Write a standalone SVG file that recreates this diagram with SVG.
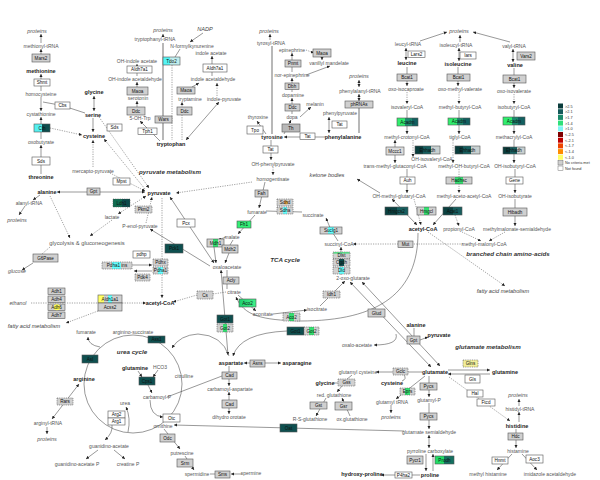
<svg xmlns="http://www.w3.org/2000/svg" width="600" height="480" viewBox="0 0 600 480">
<defs>
<style>
text{font-family:"Liberation Sans",Arial,sans-serif}
.m{font-size:5px;fill:#555;text-anchor:middle}
.b{font-size:5.5px;font-weight:bold;fill:#222;text-anchor:middle}
.p{font-size:5.5px;font-style:italic;fill:#555;text-anchor:middle}
.t{font-size:6.2px;font-weight:bold;font-style:italic;fill:#333;text-anchor:middle}
.i{font-size:5.6px;font-style:italic;fill:#444;text-anchor:middle}
.k{font-size:4.6px;fill:#111;text-anchor:middle}
.lg{font-size:3.8px;fill:#333}
.g{fill:#d0d0d0;stroke:#555;stroke-width:.6}
.w{fill:#fff;stroke:#555;stroke-width:.6}
.d{stroke-dasharray:1 .8}
.l{fill:none;stroke:#333;stroke-width:.5}
.dl{fill:none;stroke:#444;stroke-width:.5;stroke-dasharray:1.2 1.2}
.th{fill:none;stroke:#9a9a9a;stroke-width:1.4}
.e{marker-end:url(#a)}
.s{marker-start:url(#a)}
</style>
<marker id="a" viewBox="0 0 6 6" refX="6" refY="3" markerWidth="3.2" markerHeight="3.2" markerUnits="userSpaceOnUse" orient="auto-start-reverse"><path d="M0,0 L6,3 L0,6 z" fill="#222"/></marker>
<linearGradient id="gCth"><stop offset=".5" stop-color="#55f0f0"/><stop offset=".5" stop-color="#0c4c4c"/></linearGradient>
<linearGradient id="gAcadm"><stop offset=".4" stop-color="#30ee6e"/><stop offset=".4" stop-color="#1b8a6e"/><stop offset=".7" stop-color="#1b8a6e"/><stop offset=".7" stop-color="#126060"/></linearGradient>
<linearGradient id="gEhh"><stop offset=".3" stop-color="#093c3c"/><stop offset=".3" stop-color="#155e5e"/><stop offset=".65" stop-color="#155e5e"/><stop offset=".65" stop-color="#c8d0d0"/></linearGradient>
<linearGradient id="gDark"><stop offset=".5" stop-color="#0a4040"/><stop offset=".5" stop-color="#175e5e"/></linearGradient>
<linearGradient id="gLdh"><stop offset=".5" stop-color="#0f6b50"/><stop offset=".5" stop-color="#0b4a4a"/></linearGradient>
<linearGradient id="gGrn"><stop offset=".35" stop-color="#d0d0d0"/><stop offset=".35" stop-color="#33e070"/><stop offset=".65" stop-color="#33e070"/><stop offset=".65" stop-color="#d0d0d0"/></linearGradient>
<linearGradient id="gCyn"><stop offset=".35" stop-color="#d0d0d0"/><stop offset=".35" stop-color="#66ffff"/><stop offset=".65" stop-color="#66ffff"/><stop offset=".65" stop-color="#d0d0d0"/></linearGradient>
<linearGradient id="gTeal"><stop offset=".35" stop-color="#d0d0d0"/><stop offset=".35" stop-color="#0c4c4c"/><stop offset=".65" stop-color="#0c4c4c"/><stop offset=".65" stop-color="#d0d0d0"/></linearGradient>
<linearGradient id="gAld"><stop offset=".25" stop-color="#ffff66"/><stop offset=".25" stop-color="#d0d0d0"/><stop offset=".4" stop-color="#d0d0d0"/><stop offset=".4" stop-color="#66ffff"/><stop offset=".6" stop-color="#66ffff"/><stop offset=".6" stop-color="#d0d0d0"/></linearGradient>
<linearGradient id="gTdo"><stop offset=".4" stop-color="#55f5f5"/><stop offset=".4" stop-color="#bfeeee"/></linearGradient>
<linearGradient id="gProd"><stop offset=".45" stop-color="#22dd66"/><stop offset=".45" stop-color="#137060"/></linearGradient>
<linearGradient id="gAco"><stop offset="0" stop-color="#1fcf6f"/><stop offset="1" stop-color="#40f088"/></linearGradient>
</defs>
<rect width="600" height="480" fill="#fff"/>

<g id="connectors">
<line class="l e" x1="41" y1="43" x2="41" y2="34"/>
<line class="l e" x1="41" y1="55" x2="41" y2="49"/>
<line class="l e" x1="41" y1="91" x2="41" y2="74"/>
<line class="l e" x1="41" y1="97" x2="41" y2="111"/>
<polyline class="l" points="43,102 62,105.5 85,113"/>
<line class="l e" x1="41" y1="139" x2="41" y2="117"/>
<line class="dl e" x1="50" y1="128" x2="82" y2="135"/>
<line class="l e" x1="41" y1="174" x2="41" y2="145"/>
<line class="l e s" x1="94" y1="96" x2="94" y2="111"/>
<line class="l e" x1="93" y1="118" x2="93" y2="132"/>
<line class="dl e" x1="99" y1="117" x2="149" y2="188"/>
<line class="dl e" x1="145" y1="189" x2="104" y2="139"/>
<line class="dl e" x1="93" y1="167" x2="93" y2="140"/>
<line class="dl e" x1="110" y1="173" x2="145" y2="191"/>
<line class="l e s" x1="57" y1="192" x2="145" y2="192"/>
<line class="l e" x1="40" y1="195" x2="33" y2="200"/>
<line class="l e" x1="25" y1="206" x2="19" y2="215"/>
<line class="dl e s" x1="146" y1="196" x2="118" y2="214"/>
<line class="dl e" x1="146" y1="223" x2="152" y2="197"/>
<line class="dl e" x1="50" y1="196" x2="70" y2="238"/>
<line class="dl e" x1="112" y1="220" x2="90" y2="236"/>
<line class="dl" x1="50" y1="247" x2="42" y2="254"/>
<line class="l e" x1="33" y1="263" x2="22" y2="270"/>
<line class="dl e" x1="162" y1="198" x2="162" y2="298"/>
<line class="l e" x1="132" y1="265" x2="152" y2="265"/>
<line class="l e" x1="152" y1="271" x2="134" y2="271"/>
<line class="dl e" x1="31" y1="303" x2="146" y2="303"/>
<line class="dl e" x1="98" y1="311" x2="66" y2="323"/>
<line class="th" x1="163" y1="140" x2="163" y2="43"/>
<line class="l e" x1="163" y1="37" x2="163" y2="34"/>
<line class="dl" x1="172" y1="65" x2="172" y2="140"/>
<line class="l" x1="175" y1="57" x2="180" y2="49"/>
<line class="l s" x1="190" y1="42" x2="203" y2="33"/>
<line class="l e" x1="212" y1="76" x2="212" y2="56"/>
<line class="l e" x1="192" y1="87" x2="199" y2="83"/>
<line class="dl e" x1="182" y1="140" x2="182" y2="102"/>
<line class="dl e" x1="217" y1="96" x2="217" y2="83"/>
<line class="l e s" x1="186" y1="140" x2="219" y2="102"/>
<line class="l e" x1="137" y1="76" x2="137" y2="64"/>
<line class="l e" x1="137" y1="95" x2="137" y2="82"/>
<line class="l e" x1="137" y1="115" x2="137" y2="101"/>
<line class="l e" x1="160" y1="141" x2="140" y2="121"/>
<line class="th" x1="272" y1="134" x2="272" y2="46"/>
<line class="l e" x1="270" y1="40" x2="270" y2="34"/>
<line class="l e" x1="292" y1="114" x2="292" y2="98"/>
<line class="l e" x1="292" y1="92" x2="292" y2="78"/>
<line class="l e" x1="292" y1="72" x2="292" y2="53"/>
<line class="dl e" x1="306" y1="50" x2="314" y2="53"/>
<line class="l e" x1="322" y1="57" x2="322" y2="60"/>
<line class="l e" x1="306" y1="75" x2="330" y2="66"/>
<line class="l e" x1="284" y1="134" x2="291" y2="120"/>
<line class="l e" x1="300" y1="117" x2="311" y2="107"/>
<line class="l e" x1="266" y1="134" x2="257" y2="121"/>
<line class="l e" x1="271" y1="140" x2="271" y2="160"/>
<line class="l e" x1="325" y1="137" x2="284" y2="137"/>
<line class="l e s" x1="329" y1="133" x2="329" y2="117"/>
<line class="th" x1="359" y1="108" x2="359" y2="133"/>
<line class="l e s" x1="359" y1="94" x2="359" y2="101"/>
<line class="l e s" x1="359" y1="80" x2="359" y2="87"/>
<line class="dl e" x1="273" y1="167" x2="273" y2="175"/>
<line class="dl e" x1="252" y1="182" x2="176" y2="193"/>
<line class="l e" x1="265" y1="182" x2="259" y2="208"/>
<line class="l e" x1="420" y1="41" x2="447" y2="32"/>
<line class="l e" x1="460" y1="42" x2="460" y2="35"/>
<line class="l e" x1="510" y1="42" x2="473" y2="32"/>
<line class="l e s" x1="406" y1="60" x2="406" y2="48"/>
<line class="l e s" x1="459" y1="61" x2="459" y2="48"/>
<line class="l e s" x1="513" y1="62" x2="513" y2="49"/>
<line class="l e" x1="407" y1="67" x2="407" y2="86"/>
<line class="l e" x1="458" y1="67" x2="458" y2="86"/>
<line class="l e" x1="514" y1="68" x2="514" y2="88"/>
<line class="dl e" x1="407" y1="92" x2="407" y2="104"/>
<line class="dl e" x1="459" y1="92" x2="459" y2="104"/>
<line class="dl e" x1="514" y1="94" x2="514" y2="104"/>
<line class="l e" x1="407" y1="110" x2="407" y2="134"/>
<line class="l e" x1="459" y1="110" x2="459" y2="134"/>
<line class="l e" x1="514" y1="110" x2="514" y2="134"/>
<line class="l e s" x1="395" y1="140" x2="395" y2="163"/>
<line class="dl e" x1="413" y1="140" x2="413" y2="157"/>
<line class="dl e" x1="453" y1="140" x2="453" y2="163"/>
<line class="l e" x1="514" y1="140" x2="514" y2="163"/>
<line class="l e" x1="407" y1="169" x2="407" y2="193"/>
<line class="dl e" x1="459" y1="169" x2="459" y2="193"/>
<line class="l e" x1="515" y1="169" x2="515" y2="193"/>
<line class="l e" x1="380" y1="193" x2="357" y2="179"/>
<line class="l e s" x1="392" y1="199" x2="417" y2="225"/>
<line class="dl e" x1="414" y1="199" x2="421" y2="225"/>
<line class="l e" x1="456" y1="199" x2="433" y2="225"/>
<line class="dl e" x1="455" y1="215" x2="459" y2="226"/>
<line class="l e" x1="515" y1="199" x2="515" y2="226"/>
<line class="dl e" x1="462" y1="232" x2="481" y2="241"/>
<line class="dl e" x1="505" y1="232" x2="489" y2="241"/>
<line class="dl e" x1="463" y1="244" x2="353" y2="244"/>
<line class="dl e" x1="428" y1="232" x2="505" y2="286"/>
<path class="l e" d="M418,233 C418,292 380,321 300,321 C262,320 244,316 236,297"/>
<line class="l" x1="266" y1="211" x2="302" y2="212"/>
<line class="l e" x1="255" y1="215" x2="238" y2="234"/>
<line class="l e" x1="226" y1="237" x2="218" y2="240"/>
<line class="l" x1="233" y1="240" x2="230" y2="245"/>
<line class="l e" x1="214" y1="247" x2="216" y2="263"/>
<line class="l e" x1="229" y1="253" x2="225" y2="263"/>
<line class="l e s" x1="170" y1="197" x2="214" y2="263"/>
<line class="l s" x1="150" y1="229" x2="210" y2="266"/>
<line class="l" x1="227" y1="270" x2="227" y2="289"/>
<line class="dl e" x1="197" y1="295" x2="173" y2="302"/>
<line class="dl" x1="213" y1="294" x2="226" y2="292"/>
<line class="l e s" x1="221" y1="270" x2="228" y2="355"/>
<line class="l e" x1="238" y1="295" x2="256" y2="311"/>
<line class="l e" x1="273" y1="314" x2="307" y2="310"/>
<line class="l e" x1="320" y1="306" x2="345" y2="281"/>
<line class="l e" x1="341" y1="275" x2="341" y2="247"/>
<polyline class="l e" points="338,241 331,230 326,218"/>
<line class="l e s" x1="350" y1="282" x2="431" y2="367"/>
<line class="l e s" x1="362" y1="282" x2="440" y2="366"/>
<line class="l" x1="414" y1="328" x2="414" y2="336"/>
<line class="l e" x1="420" y1="340" x2="428" y2="337"/>
<path class="l e" d="M396,334 Q399,345 374,345"/>
<path class="l s" d="M233,356 Q240,333 287,331"/>
<circle class="l" cx="133" cy="384" r="49"/>
<path class="l e" d="M229,356 Q222,335 198,334 Q180,335 172,348"/>
<path class="l e" d="M100,347 Q88,345 88,337"/>
<line class="l e" x1="138" y1="371" x2="142" y2="377"/>
<line class="l e" x1="158" y1="370" x2="153" y2="377"/>
<line class="l e" x1="148" y1="385" x2="152" y2="393"/>
<path class="l e" d="M150,400 Q150,416 163,417"/>
<line class="l" x1="167" y1="397" x2="222" y2="376"/>
<line class="l e" x1="229" y1="366" x2="229" y2="386"/>
<line class="l e s" x1="229" y1="392" x2="229" y2="414"/>
<line class="l e s" x1="244" y1="363" x2="281" y2="363"/>
<path class="l e" d="M128,432 Q131,418 126,407"/>
<path class="l e" d="M112,425 Q113,433 105,440"/>
<line class="l e" x1="98" y1="450" x2="86" y2="459"/>
<line class="l e" x1="114" y1="450" x2="125" y2="459"/>
<line class="l e s" x1="79" y1="384" x2="52" y2="419"/>
<line class="l e" x1="47" y1="427" x2="47" y2="434"/>
<line class="l e" x1="164" y1="429" x2="180" y2="449"/>
<line class="l e" x1="185" y1="456" x2="194" y2="470"/>
<line class="l" x1="210" y1="474" x2="215" y2="474"/>
<line class="l e" x1="242" y1="474" x2="231" y2="474"/>
<line class="l e" x1="404" y1="431" x2="174" y2="425"/>
<line class="l e" x1="448" y1="370" x2="490" y2="370"/>
<line class="l e" x1="490" y1="374" x2="448" y2="374"/>
<line class="dl e" x1="449" y1="377" x2="510" y2="421"/>
<line class="l e" x1="519" y1="422" x2="519" y2="412"/>
<line class="l e" x1="519" y1="406" x2="519" y2="399"/>
<line class="l e" x1="516" y1="429" x2="516" y2="448"/>
<line class="l e" x1="512" y1="454" x2="497" y2="470"/>
<line class="l e" x1="522" y1="454" x2="537" y2="470"/>
<line class="l e" x1="422" y1="372" x2="376" y2="372"/>
<path class="l" d="M402,381 Q407,379 404,375"/>
<line class="l" x1="352" y1="375" x2="346" y2="380"/>
<line class="l e" x1="342" y1="386" x2="337" y2="392"/>
<line class="l" x1="333" y1="383" x2="338" y2="383"/>
<line class="l e" x1="326" y1="398" x2="316" y2="416"/>
<line class="l e" x1="350" y1="416" x2="342" y2="398"/>
<line class="l e" x1="425" y1="376" x2="396" y2="399"/>
<line class="l e" x1="391" y1="405" x2="391" y2="413"/>
<line class="l e" x1="429" y1="376" x2="429" y2="397"/>
<line class="l e" x1="429" y1="403" x2="429" y2="429"/>
<line class="l e s" x1="429" y1="435" x2="429" y2="448"/>
<line class="l e" x1="426" y1="454" x2="426" y2="471"/>
<line class="l e" x1="433" y1="471" x2="433" y2="454"/>
<line class="l e" x1="420" y1="475" x2="381" y2="475"/>
</g>

<g id="nodes">
<g id="Mars2"><rect class="g" x="32" y="54" width="18" height="8"/><text class="k" x="41" y="59.6">Mars2</text></g>
<g id="Shmt"><rect class="w" x="34" y="79" width="16" height="7"/><text class="k" x="42" y="84.1">Shmt</text></g>
<g id="Cbs"><rect class="w" x="55" y="102" width="15" height="7"/><text class="k" x="62.5" y="107.1">Cbs</text></g>
<g id="Cth"><rect class="g" style="fill:url(#gCth)" x="34" y="124" width="16" height="8"/><text class="k" x="42" y="129.6">Cth</text></g>
<g id="Sds1"><rect class="w" x="107" y="124" width="15" height="7"/><text class="k" x="114.5" y="129.1">Sds</text></g>
<g id="Sds2"><rect class="w" x="32" y="157" width="18" height="8"/><text class="k" x="41" y="162.6">Sds</text></g>
<g id="Mpst"><rect class="w" x="113" y="178" width="17" height="7"/><text class="k" x="121.5" y="183.1">Mpst</text></g>
<g id="Gpt1"><rect class="g" x="87" y="188" width="13" height="7"/><text class="k" x="93.5" y="193.1">Gpt</text></g>
<g id="Ldh1"><rect class="g d" style="fill:url(#gLdh)" x="113" y="199" width="17" height="8"/><text class="k" x="121.5" y="204.6">Ldh1</text></g>
<g id="Pkm2"><rect class="g d" x="135" y="206" width="17" height="7"/><text class="k" x="143.5" y="211.1">Pkm2</text></g>
<g id="G6Pase"><rect class="g" x="33" y="254" width="25" height="8"/><text class="k" x="45.5" y="259.6">G6Pase</text></g>
<g id="pdhp"><rect class="w" x="133" y="251" width="17" height="7"/><text class="k" x="141.5" y="256.1">pdhp</text></g>
<g id="Pdha1ins"><rect class="g d" style="fill:url(#gCyn)" x="102" y="262" width="30" height="7"/><text class="k" x="117" y="267.1">Pdha1 ins</text></g>
<g id="Pdk4"><rect class="g d" x="135" y="274" width="15" height="7"/><text class="k" x="142.5" y="279.1">Pdk4</text></g>
<g id="Pdhx"><rect class="g d" x="153" y="259" width="15" height="7"/><text class="k" x="160.5" y="264.1">Pdhx</text></g>
<g id="Pdha1"><rect class="g d" style="fill:url(#gCyn)" x="153" y="267" width="15" height="7"/><text class="k" x="160.5" y="272.1">Pdha1</text></g>
<g id="Adh1"><rect class="g" x="48" y="288" width="17" height="6.5"/><text class="k" x="56.5" y="292.9">Adh1</text></g>
<g id="Adh4"><rect class="g" x="48" y="296" width="17" height="6.5"/><text class="k" x="56.5" y="300.9">Adh4</text></g>
<g id="Adh6"><rect class="g" x="48" y="304" width="17" height="6.5"/><ellipse cx="57" cy="307.2" rx="3.5" ry="3" fill="#ffff55"/><text class="k" x="56.5" y="308.9">Adh6</text></g>
<g id="Adh7"><rect class="g" x="48" y="312" width="17" height="6.5"/><text class="k" x="56.5" y="316.9">Adh7</text></g>
<g id="Aldh1a1"><rect class="g" style="fill:url(#gAld)" x="98" y="295" width="24" height="8"/><text class="k" x="110" y="300.6">Aldh1a1</text></g>
<g id="Acss2"><rect class="g" x="98" y="303" width="24" height="8"/><text class="k" x="110" y="308.6">Acss2</text></g>
<g id="Aldh7a1a"><rect class="w" x="127" y="66" width="25" height="7"/><text class="k" x="139.5" y="71.1">Aldh7a1</text></g>
<g id="Maoa1"><rect class="g" x="127" y="87" width="21" height="8"/><text class="k" x="137.5" y="92.6">Maoa</text></g>
<g id="Ddc1"><rect class="g" x="127" y="107" width="18" height="8"/><text class="k" x="136" y="112.6">Ddc</text></g>
<g id="Tph1"><rect class="w" x="138" y="128" width="19" height="6.5"/><text class="k" x="147.5" y="132.9">Tph1</text></g>
<g id="Wars"><rect class="g" x="155" y="116" width="17" height="7"/><text class="k" x="163.5" y="121.1">Wars</text></g>
<g id="Tdo2"><rect class="g" style="fill:url(#gTdo)" x="163" y="57" width="17" height="8"/><text class="k" x="171.5" y="62.6">Tdo2</text></g>
<g id="Aldh7a1b"><rect class="w" x="203" y="64" width="24" height="8"/><text class="k" x="215" y="69.6">Aldh7a1</text></g>
<g id="Maoa2"><rect class="g" x="177" y="87" width="18" height="7"/><text class="k" x="186" y="92.1">Maoa</text></g>
<g id="Ddc2"><rect class="g" x="177" y="107" width="15" height="8"/><text class="k" x="184.5" y="112.6">Ddc</text></g>
<g id="Pnmt"><rect class="g" x="285" y="60" width="16" height="7"/><text class="k" x="293" y="65.1">Pnmt</text></g>
<g id="Maoa3"><rect class="g" x="313" y="49" width="18" height="8"/><text class="k" x="322" y="54.6">Maoa</text></g>
<g id="Dbh"><rect class="g" x="285" y="83" width="14" height="6.5"/><text class="k" x="292" y="87.9">Dbh</text></g>
<g id="Ddc3"><rect class="g" x="285" y="104" width="15" height="7"/><text class="k" x="292.5" y="109.1">Ddc</text></g>
<g id="Th"><rect class="g" style="fill:#b8b8b8" x="282" y="124" width="18" height="8"/><text class="k" x="291" y="129.6">Th</text></g>
<g id="Tpo"><rect class="w" x="247" y="126" width="16" height="8"/><text class="k" x="255" y="131.6">Tpo</text></g>
<g id="Tat1"><rect class="w" x="263" y="146" width="15" height="7"/><text class="k" x="270.5" y="151.1">Tat</text></g>
<g id="Tat2"><rect class="w" x="300" y="133" width="15" height="6.5"/><text class="k" x="307.5" y="137.9">Tat</text></g>
<g id="Tat3"><rect class="w" x="332" y="121" width="15" height="7"/><text class="k" x="339.5" y="126.1">Tat</text></g>
<g id="phRNAs"><rect class="g" x="345" y="101" width="28" height="7"/><text class="k" x="359" y="106.1">phRNAs</text></g>
<g id="Lars2"><rect class="w" x="408" y="51" width="17" height="6.5"/><text class="k" x="416.5" y="55.9">Lars2</text></g>
<g id="Bcat1a"><rect class="g" x="397" y="74" width="20" height="7"/><text class="k" x="407" y="79.1">Bcat1</text></g>
<g id="Acadm1"><rect class="g" style="fill:url(#gAcadm)" x="397" y="118" width="21" height="8"/><text class="k" x="407.5" y="123.6">Acadm</text></g>
<g id="Mccc1"><rect class="g" style="fill:#dcdcdc" x="386" y="147" width="18" height="8"/><text class="k" x="395" y="152.6">Mccc1</text></g>
<g id="Ehhadh1"><rect class="g" style="fill:url(#gEhh)" x="415" y="146" width="25" height="8"/><text class="k" x="427.5" y="151.6">Ehhadh</text></g>
<g id="Iars"><rect class="w" x="460" y="52" width="16" height="7"/><text class="k" x="468" y="57.1">Iars</text></g>
<g id="Bcat1b"><rect class="g" x="447" y="74" width="23" height="7"/><text class="k" x="458.5" y="79.1">Bcat1</text></g>
<g id="Acadm2"><rect class="g" style="fill:url(#gAcadm)" x="448" y="118" width="22" height="7"/><text class="k" x="459" y="123.1">Acadm</text></g>
<g id="Ehhadh2"><rect class="g" style="fill:url(#gEhh)" x="455" y="146" width="25" height="8"/><text class="k" x="467.5" y="151.6">Ehhadh</text></g>
<g id="Vars2"><rect class="g" x="517" y="52" width="18" height="8"/><text class="k" x="526" y="57.6">Vars2</text></g>
<g id="Bcat1c"><rect class="g" x="503" y="75" width="23" height="8"/><text class="k" x="514.5" y="80.6">Bcat1</text></g>
<g id="Acadm3"><rect class="g" style="fill:url(#gAcadm)" x="503" y="117" width="22" height="8"/><text class="k" x="514" y="122.6">Acadm</text></g>
<g id="Ehhadh3"><rect class="g" style="fill:url(#gEhh)" x="503" y="147" width="22" height="7"/><text class="k" x="514" y="152.1">Ehhadh</text></g>
<g id="Auh"><rect class="w" x="400" y="177" width="15" height="7"/><text class="k" x="407.5" y="182.1">Auh</text></g>
<g id="Hadhsc"><rect class="g" style="fill:url(#gGrn)" x="446" y="177" width="26" height="7"/><text class="k" x="459" y="182.1">Hadhsc</text></g>
<g id="Gene"><rect class="w" x="506" y="177" width="17" height="7"/><text class="k" x="514.5" y="182.1">Gene</text></g>
<g id="Hmgcs2"><rect class="g" style="fill:url(#gDark)" x="385" y="207" width="23" height="8"/><text class="k" x="396.5" y="212.6">Hmgcs2</text></g>
<g id="Hmgcl"><rect class="g" style="fill:url(#gGrn)" x="417" y="207" width="19" height="8"/><text class="k" x="426.5" y="212.6">Hmgcl</text></g>
<g id="Acat1"><rect class="g" style="fill:url(#gDark)" x="443" y="207" width="19" height="8"/><text class="k" x="452.5" y="212.6">Acat1</text></g>
<g id="Hibadh"><rect class="g" x="503" y="208" width="24" height="8"/><text class="k" x="515" y="213.6">Hibadh</text></g>
<g id="Mut"><rect class="g" x="398" y="241" width="15" height="6.5"/><text class="k" x="405.5" y="245.9">Mut</text></g>
<g id="Fah"><rect class="g" x="255" y="190" width="13" height="7"/><text class="k" x="261.5" y="195.1">Fah</text></g>
<g id="Sdhd"><rect class="g d" x="277" y="199" width="16" height="7"/><circle cx="286" cy="202.5" r="2" fill="#ffb040"/><text class="k" x="285" y="204.1">Sdhd</text></g>
<g id="Sdha"><rect class="g d" style="fill:url(#gCyn)" x="277" y="207" width="16" height="7"/><text class="k" x="285" y="212.1">Sdha</text></g>
<g id="Fh1"><rect class="g" style="fill:#33ee77" x="237" y="221" width="14" height="7"/><text class="k" x="244" y="226.1">Fh1</text></g>
<g id="Mdh1"><rect class="g" style="fill:url(#gGrn)" x="207" y="239" width="17" height="8"/><text class="k" x="215.5" y="244.6">Mdh1</text></g>
<g id="Mdh2"><rect class="g" x="222" y="245" width="16" height="8"/><text class="k" x="230" y="250.6">Mdh2</text></g>
<g id="Pcx"><rect class="w" x="177" y="219" width="18" height="8"/><text class="k" x="186" y="224.6">Pcx</text></g>
<g id="Pck1"><rect class="g" style="fill:#0e4f4f" x="165" y="244" width="18" height="9"/><text class="k" x="174" y="250.1">Pck1</text></g>
<g id="Acly"><rect class="g" x="223" y="277" width="16" height="7"/><text class="k" x="231" y="282.1">Acly</text></g>
<g id="Cs"><rect class="g d" x="197" y="291" width="16" height="8"/><text class="k" x="205" y="296.6">Cs</text></g>
<g id="Aco2a"><rect class="g" style="fill:url(#gAco)" x="239" y="299" width="17" height="8"/><text class="k" x="247.5" y="304.6">Aco2</text></g>
<g id="Aco2b"><rect class="g d" style="fill:url(#gGrn)" x="283" y="313" width="17" height="8"/><text class="k" x="291.5" y="318.6">Aco2</text></g>
<g id="Idh1"><rect class="g d" x="323" y="291" width="17" height="7"/><text class="k" x="331.5" y="296.1">Idh1</text></g>
<g id="Dlst"><rect class="g d" x="333" y="252" width="17" height="6.5"/><rect x="333.5" y="252.3" width="16" height="1.2" fill="#33e070"/><text class="k" x="341.5" y="256.9">Dlst</text></g>
<g id="Ogdh"><rect class="g d" style="fill:url(#gTeal)" x="333" y="259" width="17" height="7"/><text class="k" x="341.5" y="264.1">Ogdh</text></g>
<g id="Dld"><rect class="g d" style="fill:url(#gCyn)" x="333" y="267" width="17" height="7"/><text class="k" x="341.5" y="272.1">Dld</text></g>
<g id="Suclg1"><rect class="g" style="fill:url(#gCyn)" x="320" y="227" width="22" height="7"/><text class="k" x="331" y="232.1">Suclg1</text></g>
<g id="Got1a"><rect class="g" style="fill:#0e4f4f" x="217" y="315" width="16" height="8"/><text class="k" x="225" y="320.6">Got1</text></g>
<g id="Got2a"><rect class="g d" style="fill:url(#gGrn)" x="217" y="324" width="16" height="8"/><text class="k" x="225" y="329.6">Got2</text></g>
<g id="Got1b"><rect class="g" style="fill:#0e4f4f" x="287" y="327" width="17" height="8"/><text class="k" x="295.5" y="332.6">Got1</text></g>
<g id="Got2b"><rect class="g d" style="fill:url(#gGrn)" x="304" y="327" width="15" height="8"/><text class="k" x="311.5" y="332.6">Got2</text></g>
<g id="Glud"><rect class="g" x="368" y="309" width="17" height="8"/><text class="k" x="376.5" y="314.6">Glud</text></g>
<g id="Asl"><rect class="g" style="fill:#0e4f4f" x="82" y="355" width="16" height="8"/><text class="k" x="90" y="360.6">Asl</text></g>
<g id="Ass1"><rect class="g" style="fill:#0e4f4f" x="148" y="336" width="17" height="7"/><text class="k" x="156.5" y="341.1">Ass1</text></g>
<g id="Cps1"><rect class="g" style="fill:#0e4f4f" x="139" y="377" width="16" height="8"/><text class="k" x="147" y="382.6">Cps1</text></g>
<g id="Otc"><rect class="w" x="163" y="414" width="17" height="8"/><text class="k" x="171.5" y="419.6">Otc</text></g>
<g id="Arg2"><rect class="w" x="108" y="411" width="17" height="7"/><text class="k" x="116.5" y="416.1">Arg2</text></g>
<g id="Arg1"><rect class="w" x="108" y="418" width="17" height="7"/><text class="k" x="116.5" y="423.1">Arg1</text></g>
<g id="Rars"><rect class="g d" x="57" y="398" width="16" height="7"/><text class="k" x="65" y="403.1">Rars</text></g>
<g id="Odc"><rect class="g" x="160" y="434" width="15" height="8"/><text class="k" x="167.5" y="439.6">Odc</text></g>
<g id="Srm"><rect class="g" x="177" y="459" width="16" height="8"/><text class="k" x="185" y="464.6">Srm</text></g>
<g id="Sms"><rect class="g" x="215" y="471" width="15" height="7"/><text class="k" x="222.5" y="476.1">Sms</text></g>
<g id="Cad1"><rect class="g" x="222" y="372" width="15" height="7"/><text class="k" x="229.5" y="377.1">Cad</text></g>
<g id="Cad2"><rect class="g" x="222" y="400" width="15" height="8"/><text class="k" x="229.5" y="405.6">Cad</text></g>
<g id="Asns"><rect class="g" x="250" y="360" width="15" height="7"/><text class="k" x="257.5" y="365.1">Asns</text></g>
<g id="Oat"><rect class="g" style="fill:#0e4f4f" x="280" y="424" width="17" height="8"/><text class="k" x="288.5" y="429.6">Oat</text></g>
<g id="Gpt2"><rect class="g" x="407" y="336" width="13" height="8"/><text class="k" x="413.5" y="341.6">Gpt</text></g>
<g id="Gclc"><rect class="g d" x="393" y="368" width="15" height="7"/><text class="k" x="400.5" y="373.1">Gclc</text></g>
<g id="Gss"><rect class="g d" x="338" y="379" width="17" height="7"/><text class="k" x="346.5" y="384.1">Gss</text></g>
<g id="Gst"><rect class="g" x="310" y="402" width="17" height="7"/><text class="k" x="318.5" y="407.1">Gst</text></g>
<g id="Gsr"><rect class="g" x="335" y="402" width="17" height="8"/><text class="k" x="343.5" y="407.6">Gsr</text></g>
<g id="Eprs"><rect class="g d" style="fill:url(#gGrn)" x="400" y="388" width="15" height="7"/><text class="k" x="407.5" y="393.1">Eprs</text></g>
<g id="Pycs1"><rect class="g" x="420" y="383" width="17" height="7"/><text class="k" x="428.5" y="388.1">Pycs</text></g>
<g id="Pycs2"><rect class="g" x="420" y="413" width="17" height="7"/><text class="k" x="428.5" y="418.1">Pycs</text></g>
<g id="Pycr1"><rect class="g" x="407" y="456" width="16" height="8"/><text class="k" x="415" y="461.6">Pycr1</text></g>
<g id="Prodh"><rect class="g" style="fill:url(#gProd)" x="435" y="456" width="19" height="8"/><text class="k" x="444.5" y="461.6">Prodh</text></g>
<g id="P4ha2"><rect class="w" x="395" y="472" width="17" height="6"/><text class="k" x="403.5" y="476.6">P4ha2</text></g>
<g id="Glns"><rect class="g d" style="fill:#f2ee9a" x="463" y="360" width="15" height="7"/><text class="k" x="470.5" y="365.1">Glns</text></g>
<g id="Gls"><rect class="w" x="465" y="375" width="15" height="8"/><text class="k" x="472.5" y="380.6">Gls</text></g>
<g id="Hal"><rect class="w" x="467" y="390" width="16" height="7"/><text class="k" x="475" y="395.1">Hal</text></g>
<g id="Ftcd"><rect class="w" x="477" y="399" width="18" height="7"/><text class="k" x="486" y="404.1">Ftcd</text></g>
<g id="Hdc"><rect class="g" x="508" y="433" width="15" height="7"/><text class="k" x="515.5" y="438.1">Hdc</text></g>
<g id="Hnmt"><rect class="w" x="492" y="457" width="16" height="7"/><text class="k" x="500" y="462.1">Hnmt</text></g>
<g id="Aoc3"><rect class="w" x="526" y="455" width="17" height="8"/><text class="k" x="534.5" y="460.6">Aoc3</text></g>

<g id="t-left">
<text class="p" x="37" y="32.9">proteins</text>
<text class="m" x="41" y="47.7">methionyl-tRNA</text>
<text class="b" x="41" y="72.9">methionine</text>
<text class="m" x="41" y="95.7">homocysteine</text>
<text class="m" x="41" y="115.7">cystathionine</text>
<text class="m" x="41" y="143.7">oxobutyrate</text>
<text class="b" x="41" y="178.9">threonine</text>
<text class="b" x="94" y="93.9">glycine</text>
<text class="b" x="93" y="116.9">serine</text>
<text class="b" x="94" y="137.9">cysteine</text>
<text class="m" x="93" y="172.7">mercapto-pyruvate</text>
<text class="b" x="47" y="193.9">alanine</text>
<text class="m" x="29" y="204.7">alanyl-tRNA</text>
<text class="p" x="17" y="221.9">proteins</text>
<text class="m" x="112" y="218.7">lactate</text>
<text class="m" x="140" y="227.7">P-enol-pyruvate</text>
<text class="m" style="font-size:5.8px" x="87" y="245">glycolysis &amp; gluconeogenesis</text>
<text class="p" style="font-size:5.2px" x="17" y="272.7">glucose</text>
<text class="p" style="font-size:5.2px" x="18" y="304.7">ethanol</text>
<text class="b" x="160" y="304.9">acetyl-CoA</text>
<text class="i" x="34" y="328">fatty acid metabolism</text>
<text class="b" x="159" y="194.9">pyruvate</text>
<text class="t" x="170" y="174.2">pyruvate metabolism</text>
</g>
<g id="t-trp">
<text class="p" x="163" y="31.9">proteins</text>
<text class="m" x="155" y="40.7">tryptophanyl-tRNA</text>
<text class="i" x="205" y="30.9">NADP</text>
<text class="m" x="192" y="47.7">N-formylkynurenine</text>
<text class="m" x="137" y="62.7">OH-indole acetate</text>
<text class="m" x="211" y="54.7">indole acetate</text>
<text class="m" x="135" y="80.7">OH-indole acetaldehyde</text>
<text class="m" x="213" y="80.7">indole acetaldehyde</text>
<text class="m" x="138" y="99.7">serotonin</text>
<text class="m" x="190" y="100.7">tryptamine</text>
<text class="m" x="224" y="100.7">indole-pyruvate</text>
<text class="m" x="140" y="119.7">5-OH-Trp</text>
<text class="b" x="171" y="145.9">tryptophan</text>
</g>
<g id="t-tyr">
<text class="p" x="269" y="32.9">proteins</text>
<text class="m" x="271" y="44.7">tyrosyl-tRNA</text>
<text class="m" x="292" y="51.7">epinephrine</text>
<text class="m" x="329" y="64.7">vanillyl mandelate</text>
<text class="m" x="292" y="76.7">nor-epinephrine</text>
<text class="m" x="293" y="96.7">dopamine</text>
<text class="m" x="292" y="118.7">dopa</text>
<text class="m" x="315" y="105.7">melanin</text>
<text class="m" x="258" y="118.7">thyroxine</text>
<text class="b" x="272" y="138.9">tyrosine</text>
<text class="b" x="343" y="138.9">phenylalanine</text>
<text class="m" x="340" y="114.7">phenylpyruvate</text>
<text class="p" x="359" y="77.9">proteins</text>
<text class="m" x="360" y="92.7">phenylalanyl-tRNA</text>
<text class="m" x="273" y="165.7">OH-phenylpyruvate</text>
<text class="m" x="273" y="180.7">homogentisate</text>
</g>
<g id="t-bcaa">
<text class="m" x="408" y="45.7">leucyl-tRNA</text>
<text class="p" x="459" y="32.9">proteins</text>
<text class="m" x="456" y="46.7">isoleucyl-tRNA</text>
<text class="m" x="514" y="47.7">valyl-tRNA</text>
<text class="b" x="407" y="64.9">leucine</text>
<text class="b" x="458" y="65.9">isoleucine</text>
<text class="b" x="515" y="66.9">valine</text>
<text class="m" x="406" y="90.7">oxo-isocaproate</text>
<text class="m" x="460" y="90.7">oxo-methyl-valerate</text>
<text class="m" x="514" y="92.7">oxo-isovalerate</text>
<text class="m" x="407" y="108.7">isovaleryl-CoA</text>
<text class="m" x="460" y="108.7">methyl-butyryl-CoA</text>
<text class="m" x="514" y="108.7">isobutyryl-CoA</text>
<text class="m" x="407" y="138.7">methyl-crotonyl-CoA</text>
<text class="m" x="460" y="138.7">tiglyl-CoA</text>
<text class="m" x="514" y="138.7">methacrylyl-CoA</text>
<text class="m" x="432" y="161.2">OH-isovaleryl-CoA</text>
<text class="m" x="395" y="167.7">trans-methyl-glutaconyl-CoA</text>
<text class="m" x="464" y="167.7">methyl-OH-butyryl-CoA</text>
<text class="m" x="515" y="167.7">OH-isobutyryl-CoA</text>
<text class="i" x="327" y="177">ketone bodies</text>
<text class="m" x="399" y="197.7">OH-methyl-glutaryl-CoA</text>
<text class="m" x="464" y="197.7">methyl-aceto-acetyl-CoA</text>
<text class="m" x="515" y="197.7">OH-isobutyrate</text>
<text class="b" x="423" y="230.9">acetyl-CoA</text>
<text class="m" x="459" y="230.7">propionyl-CoA</text>
<text class="m" x="517" y="230.7">methylmalonate-semialdehyde</text>
<text class="m" x="339" y="245.7">succinyl-CoA</text>
<text class="m" x="484" y="245.7">methyl-malonyl-CoA</text>
<text class="t" x="508" y="256.2">branched chain amino-acids</text>
<text class="i" x="503" y="293">fatty acid metabolism</text>
</g>
<g id="t-tca">
<text class="m" x="257" y="213.7">fumarate</text>
<text class="m" x="313" y="216.7">succinate</text>
<text class="m" x="232" y="238.7">malate</text>
<text class="m" x="227" y="268.7">oxaloacetate</text>
<text class="m" x="234" y="293.7">citrate</text>
<text class="m" x="263" y="315.7">aconitate</text>
<text class="m" x="317" y="310.7">isocitrate</text>
<text class="m" x="353" y="279.7">2-oxo-glutarate</text>
<text class="t" x="285" y="262.2">TCA cycle</text>
</g>
<g id="t-urea">
<text class="m" x="86" y="333.7">fumarate</text>
<text class="m" x="133" y="333.7">arginino-succinate</text>
<text class="t" x="132" y="354.2">urea cycle</text>
<text class="b" x="135" y="369.9">glutamine</text>
<text class="m" x="160" y="368.7">HCO3</text>
<text class="m" x="184" y="377.7">citrulline</text>
<text class="m" x="157" y="398.7">carbamoyl-P</text>
<text class="b" x="84" y="380.9">arginine</text>
<text class="m" x="125" y="404.7">urea</text>
<text class="m" x="163" y="427.7">ornithine</text>
<text class="m" x="109" y="447.7">guanidino-acetate</text>
<text class="m" x="77" y="465.7">guanidino-acetate P</text>
<text class="m" x="128" y="465.7">creatine P</text>
<text class="m" x="48" y="424.7">arginyl-tRNA</text>
<text class="p" x="47" y="440.9">proteins</text>
<text class="m" x="182" y="454.7">putrescine</text>
<text class="m" x="197" y="475.7">spermidine</text>
<text class="m" x="251" y="474.7">spermine</text>
<text class="b" x="231" y="364.9">aspartate</text>
<text class="b" x="297" y="364.9">asparagine</text>
<text class="m" x="230" y="390.7">carbamoyl-aspartate</text>
<text class="m" x="229" y="418.7">dihydro orotate</text>
</g>
<g id="t-glu">
<text class="m" x="357" y="346.7">oxalo-acetate</text>
<text class="b" x="416" y="326.9">alanine</text>
<text class="b" x="439" y="336.9">pyruvate</text>
<text class="b" x="435" y="373.9">glutamate</text>
<text class="t" x="488" y="349.2">glutamate metabolism</text>
<text class="b" x="505" y="373.9">glutamine</text>
<text class="m" x="358" y="373.7">glutamyl cysteine</text>
<text class="b" x="392" y="384.9">cysteine</text>
<text class="b" x="325" y="384.9">glycine</text>
<text class="m" x="334" y="396.7">red. glutathione</text>
<text class="m" x="310" y="420.7">R-S-glutathione</text>
<text class="m" x="352" y="420.7">ox.glutathione</text>
<text class="m" x="392" y="403.7">glutamyl tRNA</text>
<text class="p" x="391" y="418.9">proteins</text>
<text class="m" x="429" y="401.7">glutamyl-P</text>
<text class="m" x="429" y="433.7">glutamate semialdehyde</text>
<text class="m" x="430" y="452.7">pyrroline carboxylate</text>
<text class="b" x="430" y="476.9">proline</text>
<text class="b" x="362" y="475.9">hydroxy-proline</text>
<text class="p" x="518" y="396.9">proteins</text>
<text class="m" x="520" y="410.7">histidyl-tRNA</text>
<text class="b" x="517" y="427.9">histidine</text>
<text class="m" x="518" y="452.7">histamine</text>
<text class="m" x="488" y="475.7">methyl histamine</text>
<text class="m" x="550" y="475.7">imidazole acetaldehyde</text>
</g>
</g>

<g id="legend">
<rect x="558" y="103.5" width="5" height="5" fill="#0a3c3c"/><text class="lg" x="565" y="107.5">&gt;2.5</text>
<rect x="558" y="109.2" width="5" height="5" fill="#135a5a"/><text class="lg" x="565" y="113.2">&gt;2.1</text>
<rect x="558" y="114.9" width="5" height="5" fill="#1a8a6a"/><text class="lg" x="565" y="118.9">&gt;1.7</text>
<rect x="558" y="120.6" width="5" height="5" fill="#2ee07a"/><text class="lg" x="565" y="124.6">&gt;1.4</text>
<rect x="558" y="126.3" width="5" height="5" fill="#7ff5f5"/><text class="lg" x="565" y="130.3">&gt;1.0</text>
<rect x="558" y="132" width="5" height="5" fill="#800000"/><text class="lg" x="565" y="136">&lt;-2.5</text>
<rect x="558" y="137.7" width="5" height="5" fill="#c00000"/><text class="lg" x="565" y="141.7">&lt;-2.1</text>
<rect x="558" y="143.4" width="5" height="5" fill="#ee4400"/><text class="lg" x="565" y="147.4">&lt;-1.7</text>
<rect x="558" y="149.1" width="5" height="5" fill="#ff8c00"/><text class="lg" x="565" y="153.1">&lt;-1.4</text>
<rect x="558" y="154.8" width="5" height="5" fill="#ffff66"/><text class="lg" x="565" y="158.8">&lt;-1.0</text>
<rect x="558" y="160.5" width="5" height="4.5" fill="#d0d0d0" stroke="#555" stroke-width=".4"/><text class="lg" x="565" y="164.3">No criteria met</text>
<rect x="558" y="166" width="5" height="4.5" fill="#fff" stroke="#555" stroke-width=".4"/><text class="lg" x="565" y="169.8">Not found</text>
</g>
</svg>
